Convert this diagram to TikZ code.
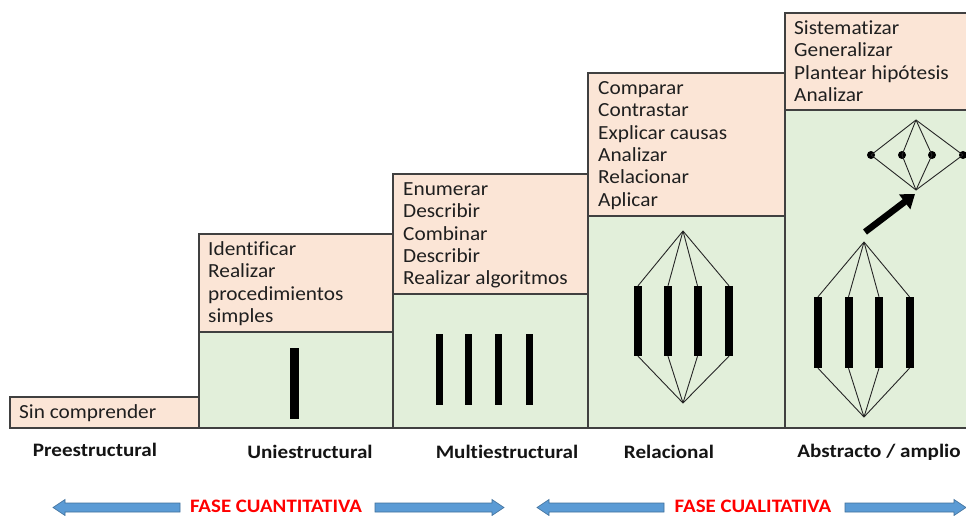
\documentclass[tikz,border=0pt]{standalone}
\usepackage{fontspec}
\setmainfont{Carlito}[Ligatures={NoCommon,NoContextual}]
\usetikzlibrary{arrows.meta}
\definecolor{pinkfill}{HTML}{FBE5D6}
\definecolor{greenfill}{HTML}{E2EFDA}
\definecolor{edge}{HTML}{404040}
\definecolor{phaseblue}{HTML}{5B9BD5}
\definecolor{phaseedge}{HTML}{41719C}
% slightly widened lettering
\newcommand\xwide[2][1.065]{\scalebox{#1}[1]{#2}}
\begin{document}
\begin{tikzpicture}[x=1pt,y=-1pt,
  pinkbox/.style={fill=pinkfill,draw=edge,line width=1.2pt},
  greenbox/.style={fill=greenfill,draw=edge,line width=1.2pt},
  verbs/.style={anchor=north west,inner sep=0pt,align=left,
    font=\fontsize{20}{22.4}\selectfont,text=black!88},
  bar/.style={fill=black,inner sep=0pt,minimum width=8pt,minimum height=71pt},
  link/.style={draw=black!85,line width=0.9pt},
  dot/.style={circle,fill=black,inner sep=0pt,minimum size=8pt},
  level/.style={font=\fontsize{19}{22}\selectfont\bfseries,text=black!92},
  phase/.style={inner sep=0pt,font=\fontsize{19}{22}\selectfont\bfseries,text=red},
  bluearrow/.style={fill=phaseblue,draw=phaseedge,line width=0.6pt}]

\useasboundingbox (0,0) rectangle (966,516);
\fill[white] (0,0) rectangle (966,516);

% ---- steps of the staircase ----
\draw[pinkbox]  (10,397)  rectangle (199,428);
\draw[greenbox] (199,332) rectangle (393,428);
\draw[pinkbox]  (199,234) rectangle (393,332);
\draw[greenbox] (393,294) rectangle (588,428);
\draw[pinkbox]  (393,174) rectangle (588,294);
\draw[greenbox] (588,216) rectangle (785,428);
\draw[pinkbox]  (588,73)  rectangle (785,216);
\draw[greenbox] (785,110) rectangle (975,428);
\draw[pinkbox]  (785,13)  rectangle (975,110);

% ---- verbs of each step ----
\node[verbs] (v0) at (19,402.5)  {\strut\xwide{Sin comprender}};
\node[verbs] (v1) at (208,239.5) {\strut\xwide{Identificar}\\\xwide{Realizar}\\\xwide{procedimientos}\\\xwide{simples}};
\node[verbs] (v2) at (403,179.5) {\strut\xwide{Enumerar}\\\xwide{Describir}\\\xwide{Combinar}\\\xwide{Describir}\\\xwide{Realizar algoritmos}};
\node[verbs] (v3) at (598,78.5)  {\strut\xwide{Comparar}\\\xwide{Contrastar}\\\xwide{Explicar causas}\\\xwide{Analizar}\\\xwide{Relacionar}\\\xwide{Aplicar}};
\node[verbs] (v4) at (794,18.5)  {\strut\xwide{Sistematizar}\\\xwide{Generalizar}\\\xwide{Plantear hipótesis}\\\xwide{Analizar}};

% ---- uniestructural: one element ----
\node[bar,minimum width=9pt] (u1) at (294.5,383.5) {};

% ---- multiestructural: several elements ----
\foreach \x [count=\i] in {439.5,468.5,498.5,529.5}
  \node[bar,minimum width=7pt] (m\i) at (\x,369.5) {};

% ---- relacional: elements joined ----
\coordinate (rtop) at (683,231);
\coordinate (rbot) at (683,403);
\foreach \x [count=\i] in {638,668,697.5,729}{
  \node[bar,minimum height=70pt] (r\i) at (\x,321) {};
  \draw[link] (rtop) -- (r\i.north);
  \draw[link] (r\i.south) -- (rbot);
}

% ---- abstracto: joined elements lead to a higher structure ----
\coordinate (atop) at (864,242);
\coordinate (abot) at (864,417);
\foreach \x [count=\i] in {818,848.5,879,909.5}{
  \node[bar] (a\i) at (\x,332.5) {};
  \draw[link] (atop) -- (a\i.north);
  \draw[link] (a\i.south) -- (abot);
}
\coordinate (htop) at (916,120);
\coordinate (hbot) at (916,190);
\foreach \x [count=\i] in {871,902,932,963}{
  \node[dot] (h\i) at (\x,155) {};
  \draw[link] (htop) -- (h\i.center);
  \draw[link] (h\i.center) -- (hbot);
}
\coordinate (jumpfrom) at (865,232);
\coordinate (jumpto) at (915,194);
\draw[line width=6.5pt,-{Triangle[length=13pt,width=18pt]}] (jumpfrom) -- (jumpto);

% ---- level names ----
\node[level] (l0) at (95,450)  {\xwide[1.11]{Preestructural}};
\node[level] (l1) at (310,452) {\xwide[1.11]{Uniestructural}};
\node[level] (l2) at (507,452) {\xwide[1.11]{Multiestructural}};
\node[level] (l3) at (669,452) {\xwide[1.11]{Relacional}};
\node[level] (l4) at (879,452) {\xwide[1.11]{Abstracto / amplio}};

% ---- phases ----
\node[phase] (p1) at (276,506.5) {\xwide[1.1]{FASE CUANTITATIVA}};
\node[phase] (p2) at (753,506.5) {\xwide[1.1]{FASE CUALITATIVA}};

\draw[bluearrow] (53,507.5) -- (65,499.5) -- (65,503) -- (180,503) -- (180,512) -- (65,512) -- (65,515.5) -- cycle;
\draw[bluearrow] (504,507.5) -- (492,499.5) -- (492,503) -- (375,503) -- (375,512) -- (492,512) -- (492,515.5) -- cycle;
\draw[bluearrow] (537,507.5) -- (549,499.5) -- (549,503) -- (664,503) -- (664,512) -- (549,512) -- (549,515.5) -- cycle;
\draw[bluearrow] (966,507.5) -- (954,499.5) -- (954,503) -- (845,503) -- (845,512) -- (954,512) -- (954,515.5) -- cycle;
\end{tikzpicture}
\end{document}
